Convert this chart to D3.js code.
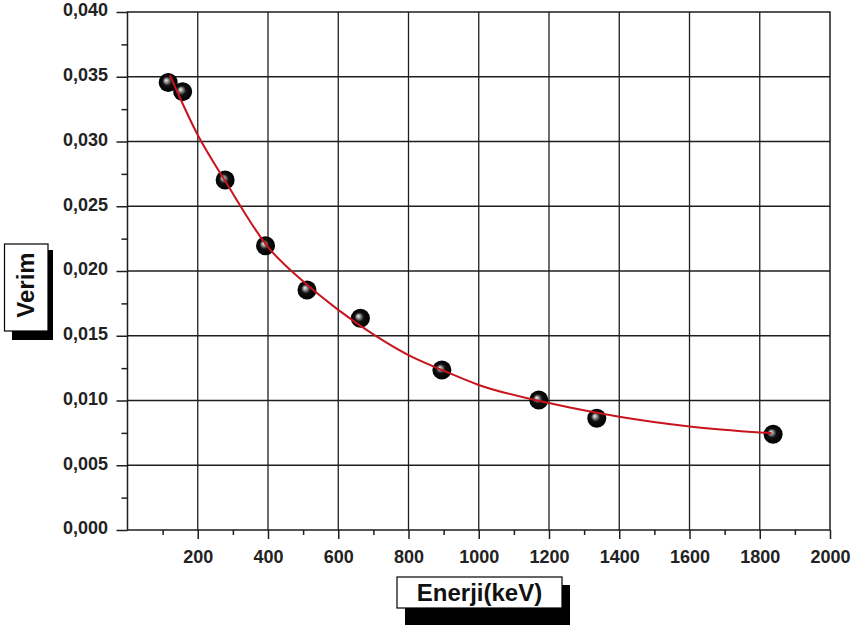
<!DOCTYPE html>
<html>
<head>
<meta charset="utf-8">
<script src="https://cdn.jsdelivr.net/npm/d3@7"></script>
<style>
  html, body { margin: 0; padding: 0; background: #fff; }
  svg { display: block; font-family: "Liberation Sans", Arial, sans-serif; }
</style>
</head>
<body>
<svg id="chart" width="861" height="627"></svg>
<script>
// ---- data ----
const energy = [116, 157, 278, 393, 511, 663, 895, 1171, 1336, 1838];
const efficiency = [0.03456, 0.03385, 0.02703, 0.02195, 0.01853, 0.01635, 0.01236, 0.01004, 0.00863, 0.00739];
const fitEnergy = [121, 200, 277, 400, 500, 600, 700, 800, 900, 1000, 1200, 1400, 1600, 1834];
const fitEfficiency = [0.0351, 0.0305, 0.0270, 0.02185, 0.0192, 0.0170, 0.0151, 0.0135, 0.0123, 0.0112, 0.0098, 0.00875, 0.0080, 0.00747];
const xTicks = [200, 400, 600, 800, 1000, 1200, 1400, 1600, 1800, 2000];
const xMinorTicks = [100, 300, 500, 700, 900, 1100, 1300, 1500, 1700, 1900];
const yTicks = [0, 0.005, 0.010, 0.015, 0.020, 0.025, 0.030, 0.035, 0.040];
const yMinorTicks = [0.0025, 0.0075, 0.0125, 0.0175, 0.0225, 0.0275, 0.0325, 0.0375];
const xTitle = "Enerji(keV)";
const yTitle = "Verim";

const svg = d3.select("#chart");
const x = d3.scaleLinear().domain([0, 2000]).range([127.5, 830]);
const y = d3.scaleLinear().domain([0, 0.04]).range([530, 12]);
const ink = "#1e1e1e";

// gradient for sphere markers
const defs = svg.append("defs");
const grad = defs.append("radialGradient").attr("id", "ball")
  .attr("cx", "0.5").attr("cy", "0.5").attr("r", "0.5")
  .attr("fx", "0.38").attr("fy", "0.38");
grad.append("stop").attr("offset", "0%").attr("stop-color", "#f4f4f4");
grad.append("stop").attr("offset", "20%").attr("stop-color", "#9a9a9a");
grad.append("stop").attr("offset", "48%").attr("stop-color", "#111");
grad.append("stop").attr("offset", "100%").attr("stop-color", "#000");

// grid
const grid = svg.append("g");
grid.selectAll("line.v").data(xTicks.filter(d => d < 2000)).join("line")
  .attr("x1", d => x(d)).attr("x2", d => x(d))
  .attr("y1", y(0)).attr("y2", y(0.04))
  .attr("stroke", ink).attr("stroke-width", 1.3);
grid.selectAll("line.h").data(yTicks.filter(d => d > 0 && d < 0.04)).join("line")
  .attr("x1", x(0)).attr("x2", x(2000))
  .attr("y1", d => y(d)).attr("y2", d => y(d))
  .attr("stroke", ink).attr("stroke-width", 1.3);

// frame
svg.append("rect")
  .attr("x", x(0)).attr("y", y(0.04))
  .attr("width", x(2000) - x(0)).attr("height", y(0) - y(0.04))
  .attr("fill", "none").attr("stroke", ink).attr("stroke-width", 1.5);

// axes
function styleAxis(g) {
  g.select(".domain").remove();
  g.selectAll(".tick line").attr("stroke", ink).attr("stroke-width", 1.5);
  g.selectAll("text").attr("fill", "#222").attr("font-size", 18).attr("font-weight", "bold")
    .attr("font-family", "'Liberation Sans', Arial, sans-serif");
}
const xAxis = svg.append("g").attr("transform", `translate(0,${y(0)})`)
  .call(d3.axisBottom(x).tickValues(xTicks).tickSize(9).tickSizeOuter(0).tickPadding(11).tickFormat(d3.format("d")));
styleAxis(xAxis);
const xMinor = svg.append("g").attr("transform", `translate(0,${y(0)})`)
  .call(d3.axisBottom(x).tickValues(xMinorTicks).tickSize(5).tickSizeOuter(0).tickFormat(""));
styleAxis(xMinor);

const yFmt = d => d3.format(".3f")(d).replace(".", ",");
const yAxis = svg.append("g").attr("transform", `translate(${x(0)},0)`)
  .call(d3.axisLeft(y).tickValues(yTicks).tickSize(11).tickSizeOuter(0).tickPadding(8.5).tickFormat(yFmt));
styleAxis(yAxis);
yAxis.selectAll("text").attr("dy", "0.22em");
const yMinor = svg.append("g").attr("transform", `translate(${x(0)},0)`)
  .call(d3.axisLeft(y).tickValues(yMinorTicks).tickSize(6).tickSizeOuter(0).tickFormat(""));
styleAxis(yMinor);

// points
const pts = energy.map((e, i) => ({ e, v: efficiency[i] }));
svg.append("g").selectAll("circle").data(pts).join("circle")
  .attr("cx", d => x(d.e)).attr("cy", d => y(d.v)).attr("r", 9.5)
  .attr("fill", "url(#ball)");

// fit curve
const fit = fitEnergy.map((e, i) => ({ e, v: fitEfficiency[i] }));
svg.append("path").datum(fit)
  .attr("d", d3.line().x(d => x(d.e)).y(d => y(d.v)).curve(d3.curveMonotoneX))
  .attr("fill", "none").attr("stroke", "#c8141c").attr("stroke-width", 2);

// axis titles with drop shadow boxes
function titleBox(bx, by, bw, bh, sx, sy, sw, sh) {
  svg.append("rect").attr("x", sx).attr("y", sy).attr("width", sw).attr("height", sh).attr("fill", "#000");
  svg.append("rect").attr("x", bx).attr("y", by).attr("width", bw).attr("height", bh)
    .attr("fill", "#fff").attr("stroke", "#000").attr("stroke-width", 1.2);
}
titleBox(397, 577, 165, 31, 405, 585, 165, 40);
svg.append("text").attr("x", 479.5).attr("y", 600.5)
  .attr("text-anchor", "middle").attr("font-size", 24).attr("font-weight", "bold").attr("fill", "#111")
  .text(xTitle);

titleBox(4.5, 244, 43.5, 87, 12, 250, 41, 90);
svg.append("text").attr("transform", "translate(33.5,285) rotate(-90)")
  .attr("text-anchor", "middle").attr("font-size", 24).attr("font-weight", "bold").attr("fill", "#111")
  .text(yTitle);
</script>
</body>
</html>
